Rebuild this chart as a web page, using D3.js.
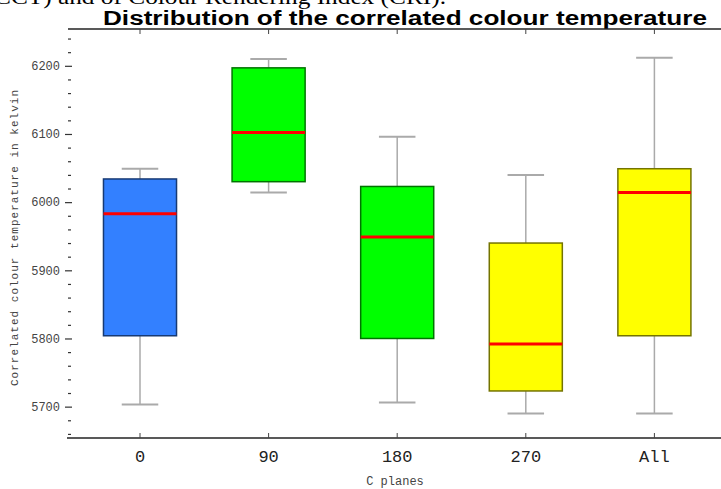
<!DOCTYPE html>
<html>
<head>
<meta charset="utf-8">
<script src="https://cdn.jsdelivr.net/npm/d3@7"></script>
<style>
  html, body { margin: 0; padding: 0; background: #fff; }
  svg { display: block; }
</style>
</head>
<body>
<svg id="chart" width="721" height="489"></svg>
<script>
// ---- data ----
const categories   = ["0", "90", "180", "270", "All"];
const whiskerLow   = [5703, 6014, 5706, 5690, 5690];
const q1           = [5804, 6030, 5800, 5723, 5804];
const medians      = [5983, 6102, 5949, 5792, 6014];
const q3           = [6034, 6197, 6023, 5940, 6049];
const whiskerHigh  = [6049, 6210, 6096, 6040, 6212];
const boxColors    = ["#3380ff", "#00ff00", "#00ff00", "#ffff00", "#ffff00"];
const yMajorTicks  = [5700, 5800, 5900, 6000, 6100, 6200];
const yMinorTicks  = [5660, 5680, 5720, 5740, 5760, 5780, 5820, 5840, 5860, 5880,
                      5920, 5940, 5960, 5980, 6020, 6040, 6060, 6080, 6120, 6140,
                      6160, 6180, 6220, 6240];
const titleText    = "Distribution of the correlated colour temperature";
const yAxisTitle   = "Correlated colour temperature in kelvin";
const xAxisTitle   = "C planes";
const pageFragment = "CCT) and of Colour Rendering Index (CRI).";

const svg = d3.select("#chart");

const plotLeft = 68, plotTop = 29, plotBottom = 438;

const x = d3.scaleBand()
  .domain(categories)
  .range([75.7, 718.7])
  .paddingInner(0.432)
  .paddingOuter(0.216);

const y = d3.scaleLinear()
  .domain([5654, 6254])
  .range([plotBottom, plotTop]);

const rows = categories.map((c, i) => ({
  cat: c, lo: whiskerLow[i], q1: q1[i], med: medians[i], q3: q3[i], hi: whiskerHigh[i], color: boxColors[i]
}));

// page text fragment (cut off at top)
svg.append("text")
  .attr("x", -6).attr("y", 4)
  .attr("font-family", "'Liberation Serif', 'Times New Roman', serif")
  .attr("font-size", 21)
  .attr("textLength", 452)
  .attr("lengthAdjust", "spacingAndGlyphs")
  .attr("fill", "#000")
  .text(pageFragment);

// title
svg.append("text")
  .attr("x", 103).attr("y", 25)
  .attr("font-family", "'Liberation Sans Narrow', 'Liberation Sans', Arial, sans-serif")
  .attr("font-weight", "bold")
  .attr("font-size", 20)
  .attr("textLength", 604)
  .attr("lengthAdjust", "spacingAndGlyphs")
  .attr("fill", "#000")
  .text(titleText);

// top frame line with ticks
svg.append("line")
  .attr("x1", plotLeft).attr("x2", 721)
  .attr("y1", plotTop).attr("y2", plotTop)
  .attr("stroke", "#222").attr("stroke-width", 1.5);

const topAxis = d3.axisTop(x).tickSize(-5).tickFormat("");
svg.append("g")
  .attr("transform", `translate(0,${plotTop})`)
  .call(topAxis)
  .call(g => g.select(".domain").remove())
  .call(g => g.selectAll(".tick line").attr("stroke", "#444"));

// y axis ticks (no vertical line)
const yMajor = d3.axisLeft(y).tickValues(yMajorTicks).tickSize(7).tickPadding(5)
  .tickFormat(d3.format("d"));
svg.append("g")
  .attr("transform", `translate(72,0)`)
  .call(yMajor)
  .call(g => g.select(".domain").remove())
  .call(g => g.selectAll(".tick line").attr("stroke", "#333").attr("stroke-width", 1.2))
  .call(g => g.selectAll(".tick text")
    .attr("font-family", "'Liberation Mono', 'DejaVu Sans Mono', monospace")
    .attr("font-size", 12)
    .attr("fill", "#444"));

const yMinor = d3.axisLeft(y).tickValues(yMinorTicks).tickSize(3).tickFormat("");
svg.append("g")
  .attr("transform", `translate(71,0)`)
  .call(yMinor)
  .call(g => g.select(".domain").remove())
  .call(g => g.selectAll(".tick line").attr("stroke", "#333").attr("stroke-width", 1.2));

// bottom axis
svg.append("line")
  .attr("x1", 67).attr("x2", 721)
  .attr("y1", plotBottom).attr("y2", plotBottom)
  .attr("stroke", "#222").attr("stroke-width", 1.5);

const xAxis = d3.axisBottom(x).tickSize(-5).tickPadding(12);
svg.append("g")
  .attr("transform", `translate(0,${plotBottom})`)
  .call(xAxis)
  .call(g => g.select(".domain").remove())
  .call(g => g.selectAll(".tick line").attr("stroke", "#444"))
  .call(g => g.selectAll(".tick text")
    .attr("font-family", "'Liberation Mono', 'DejaVu Sans Mono', monospace")
    .attr("font-size", 17)
    .attr("fill", "#222"));

// axis titles
svg.append("text")
  .attr("transform", `translate(18,${238}) rotate(-90)`)
  .attr("text-anchor", "middle")
  .attr("font-family", "'Liberation Mono', 'DejaVu Sans Mono', monospace")
  .attr("font-size", 11)
  .attr("textLength", 296)
  .attr("lengthAdjust", "spacing")
  .attr("fill", "#444")
  .text(yAxisTitle);

svg.append("text")
  .attr("x", 395).attr("y", 485)
  .attr("text-anchor", "middle")
  .attr("font-family", "'Liberation Mono', 'DejaVu Sans Mono', monospace")
  .attr("font-size", 12)
  .attr("fill", "#444")
  .text(xAxisTitle);

// boxes
const bw = x.bandwidth();
const g = svg.append("g");
const box = g.selectAll("g.box").data(rows).join("g").attr("class", "box")
  .attr("transform", d => `translate(${x(d.cat)},0)`);

// whiskers
box.append("line")
  .attr("x1", bw / 2).attr("x2", bw / 2)
  .attr("y1", d => y(d.hi)).attr("y2", d => y(d.q3))
  .attr("stroke", "#aaa").attr("stroke-width", 1.5);
box.append("line")
  .attr("x1", bw / 2).attr("x2", bw / 2)
  .attr("y1", d => y(d.q1)).attr("y2", d => y(d.lo))
  .attr("stroke", "#aaa").attr("stroke-width", 1.5);
box.append("line")
  .attr("x1", bw / 4).attr("x2", bw * 3 / 4)
  .attr("y1", d => y(d.hi)).attr("y2", d => y(d.hi))
  .attr("stroke", "#aaa").attr("stroke-width", 2);
box.append("line")
  .attr("x1", bw / 4).attr("x2", bw * 3 / 4)
  .attr("y1", d => y(d.lo)).attr("y2", d => y(d.lo))
  .attr("stroke", "#aaa").attr("stroke-width", 2);

// box rect
box.append("rect")
  .attr("x", 0).attr("width", bw)
  .attr("y", d => y(d.q3))
  .attr("height", d => y(d.q1) - y(d.q3))
  .attr("fill", d => d.color)
  .attr("stroke", d => d3.color(d.color).darker(2.2))
  .attr("stroke-width", 1.5);

// median
box.append("line")
  .attr("x1", 0).attr("x2", bw)
  .attr("y1", d => y(d.med)).attr("y2", d => y(d.med))
  .attr("stroke", "#ff0000").attr("stroke-width", 3);
</script>
</body>
</html>
